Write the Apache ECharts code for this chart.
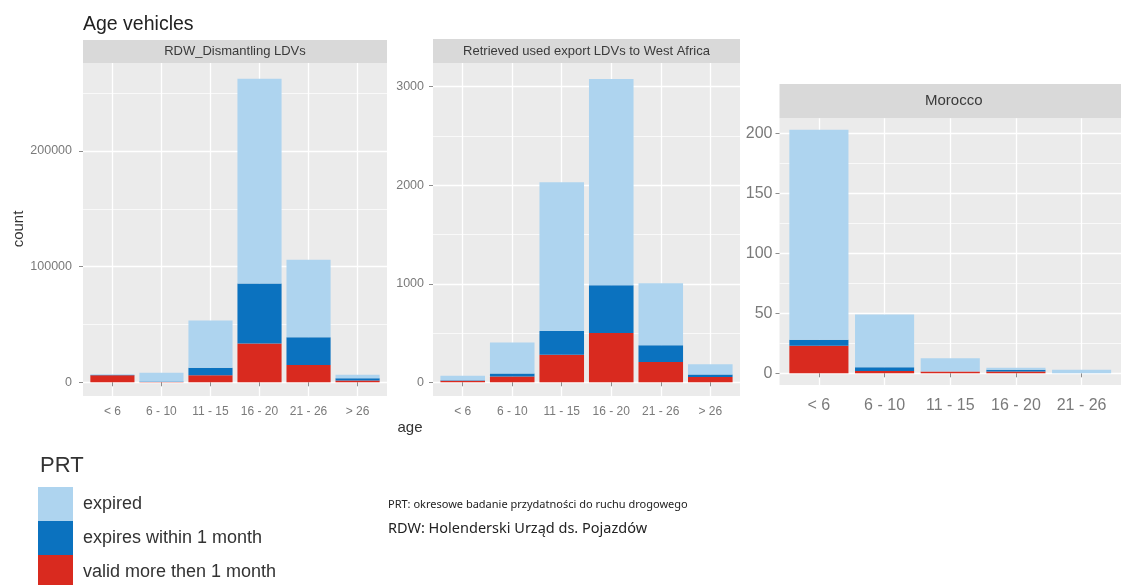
<!DOCTYPE html>
<html><head><meta charset="utf-8">
<script src="https://cdn.jsdelivr.net/npm/echarts@6/dist/echarts.min.js"></script>
<style>html,body{margin:0;padding:0;background:#fff}#c{width:1121px;height:585px}</style>
</head><body><div id="c"></div>
<script>
// ---- categories ----
const ageCatsA = ['< 6', '6 - 10', '11 - 15', '16 - 20', '21 - 26', '> 26'];
const ageCatsMorocco = ['< 6', '6 - 10', '11 - 15', '16 - 20', '21 - 26'];
const prtNames = ['valid more then 1 month', 'expires within 1 month', 'expired'];
const legendOrder = ['expired', 'expires within 1 month', 'valid more then 1 month'];
const panelTitles = ['RDW_Dismantling LDVs', 'Retrieved used export LDVs to West Africa', 'Morocco'];

// ---- values: RDW_Dismantling LDVs ----
const rdwValid   = [6000, 300, 6000, 33500, 15000, 1500];
const rdwSoon    = [400, 400, 6500, 52000, 24000, 2000];
const rdwExpired = [500, 7600, 41000, 177000, 67000, 3000];

// ---- values: Retrieved used export LDVs to West Africa ----
const waValid   = [15, 60, 280, 500, 205, 55];
const waSoon    = [5, 30, 240, 485, 170, 25];
const waExpired = [47, 315, 1510, 2093, 630, 103];

// ---- values: Morocco ----
const maValid   = [23, 2, 1.5, 1.5, 0];
const maSoon    = [5, 3, 0, 1.5, 0];
const maExpired = [175, 44, 11, 1.7, 3];

// ---- tick labels ----
const yMajorA = [0, 100000, 200000];
const yMinorA = [50000, 150000, 250000];
const yMajorB = [0, 1000, 2000, 3000];
const yMinorB = [500, 1500, 2500];
const yMajorC = [0, 50, 100, 150, 200];
const yMinorC = [25, 75, 125, 175];

const colors = ['#D92A1F', '#0B72BF', '#AED4EF'];
const FONT = '"Liberation Sans", Arial, sans-serif';

const panels = [
  { cats: ageCatsA, vals: [rdwValid, rdwSoon, rdwExpired], major: yMajorA, minor: yMinorA,
    ymin: -11850, ymax: 276100, left: 83, top: 63, width: 304, height: 333, stripTop: 40,
    stripFont: 13, labFont: 12, ylabFont: 12.5, ylabMargin: 11, xlabMargin: 10 },
  { cats: ageCatsA, vals: [waValid, waSoon, waExpired], major: yMajorB, minor: yMinorB,
    ymin: -139, ymax: 3241, left: 433, top: 63, width: 307, height: 333, stripTop: 39,
    stripFont: 13, labFont: 12, ylabFont: 12.5, ylabMargin: 9, xlabMargin: 10 },
  { cats: ageCatsMorocco, vals: [maValid, maSoon, maExpired], major: yMajorC, minor: yMinorC,
    ymin: -9.75, ymax: 212.5, left: 779.5, top: 118.3, width: 348.5, height: 266.7, stripTop: 84,
    stripFont: 15, labFont: 16, ylabFont: 16, ylabMargin: 7, xlabMargin: 13 }
];

const grids = [], xAxes = [], yAxes = [], series = [], graphics = [];
panels.forEach((p, pi) => {
  grids.push({ left: p.left, top: p.top, width: p.width, height: p.height, show: true,
    backgroundColor: '#EBEBEB', borderWidth: 0 });
  const idx = p.cats.map((c, i) => i + 1);
  xAxes.push({ type: 'value', gridIndex: pi, min: 0.4, max: p.cats.length + 0.6,
    axisLine: { show: false },
    axisTick: { show: true, length: 4, customValues: idx, lineStyle: { color: '#8c8c8c' } },
    axisLabel: { customValues: idx, formatter: v => p.cats[Math.round(v) - 1],
      fontSize: p.labFont, color: '#7a7a7a', fontFamily: FONT, margin: p.xlabMargin },
    splitLine: { show: true, lineStyle: { color: '#ffffff', width: 1.3 } } });
  yAxes.push({ type: 'value', gridIndex: pi, min: p.ymin, max: p.ymax,
    axisLine: { show: false },
    axisTick: { show: true, length: 4, customValues: p.major, lineStyle: { color: '#8c8c8c' } },
    axisLabel: { customValues: p.major, formatter: v => String(v), fontSize: p.ylabFont,
      color: '#7a7a7a', fontFamily: FONT, margin: p.ylabMargin },
    splitLine: { show: true, lineStyle: { color: '#ffffff', width: 1.3 } } });
  yAxes.push({ type: 'value', gridIndex: pi, min: p.ymin, max: p.ymax,
    axisLine: { show: false },
    axisTick: { show: false, customValues: p.minor },
    axisLabel: { show: false, customValues: p.minor },
    splitLine: { show: true, lineStyle: { color: '#ffffff', width: 0.7 } } });
  p.vals.forEach((arr, k) => {
    series.push({ type: 'bar', name: prtNames[k], xAxisIndex: pi, yAxisIndex: pi * 2,
      stack: 'stack' + pi, barWidth: '90%',
      encode: { x: 1, y: 0 },
      data: arr.map((v, i) => [v, i + 1]),
      itemStyle: { color: colors[k] }, emphasis: { disabled: true } });
  });
  // facet strip
  graphics.push({ type: 'rect', shape: { x: p.left, y: p.stripTop, width: p.width, height: p.top - p.stripTop },
    style: { fill: '#D9D9D9' }, silent: true });
  graphics.push({ type: 'text', x: p.left + p.width / 2, y: (p.stripTop + p.top) / 2,
    style: { text: panelTitles[pi], fill: '#3a3a3a', font: p.stripFont + 'px ' + FONT,
      align: 'center', verticalAlign: 'middle' }, silent: true });
});

graphics.push({ type: 'text', x: 83, y: 25, style: { text: 'Age vehicles', fill: '#222',
  font: '19.5px ' + FONT, align: 'left', verticalAlign: 'middle' } });
graphics.push({ type: 'text', x: 19, y: 229, rotation: Math.PI / 2, style: { text: 'count', fill: '#333',
  font: '15px ' + FONT, align: 'center', verticalAlign: 'middle' } });
graphics.push({ type: 'text', x: 410, y: 428, style: { text: 'age', fill: '#333',
  font: '15px ' + FONT, align: 'center', verticalAlign: 'middle' } });
graphics.push({ type: 'text', x: 40, y: 466, style: { text: 'PRT', fill: '#333',
  font: '22px ' + FONT, align: 'left', verticalAlign: 'middle' } });
graphics.push({ type: 'text', x: 388, y: 505, style: { text: 'PRT: okresowe badanie przydatności do ruchu drogowego',
  fill: '#222', font: '11px "Noto Sans", sans-serif', align: 'left', verticalAlign: 'middle' } });
graphics.push({ type: 'text', x: 388, y: 529, style: { text: 'RDW: Holenderski Urząd ds. Pojazdów',
  fill: '#222', font: '14.5px "Noto Sans", sans-serif', align: 'left', verticalAlign: 'middle' } });

const chart = echarts.init(document.getElementById('c'), null, { renderer: 'canvas' });
chart.setOption({
  animation: false,
  backgroundColor: '#ffffff',
  grid: grids, xAxis: xAxes, yAxis: yAxes, series: series,
  legend: { data: legendOrder, orient: 'vertical', left: 38, top: 487, height: 120, padding: 0,
    itemWidth: 35, itemHeight: 34, itemGap: 0, icon: 'rect', selectedMode: false,
    textStyle: { fontSize: 18, color: '#333', fontFamily: FONT, padding: [0, 0, 0, 5] } },
  graphic: graphics
});
</script></body></html>
